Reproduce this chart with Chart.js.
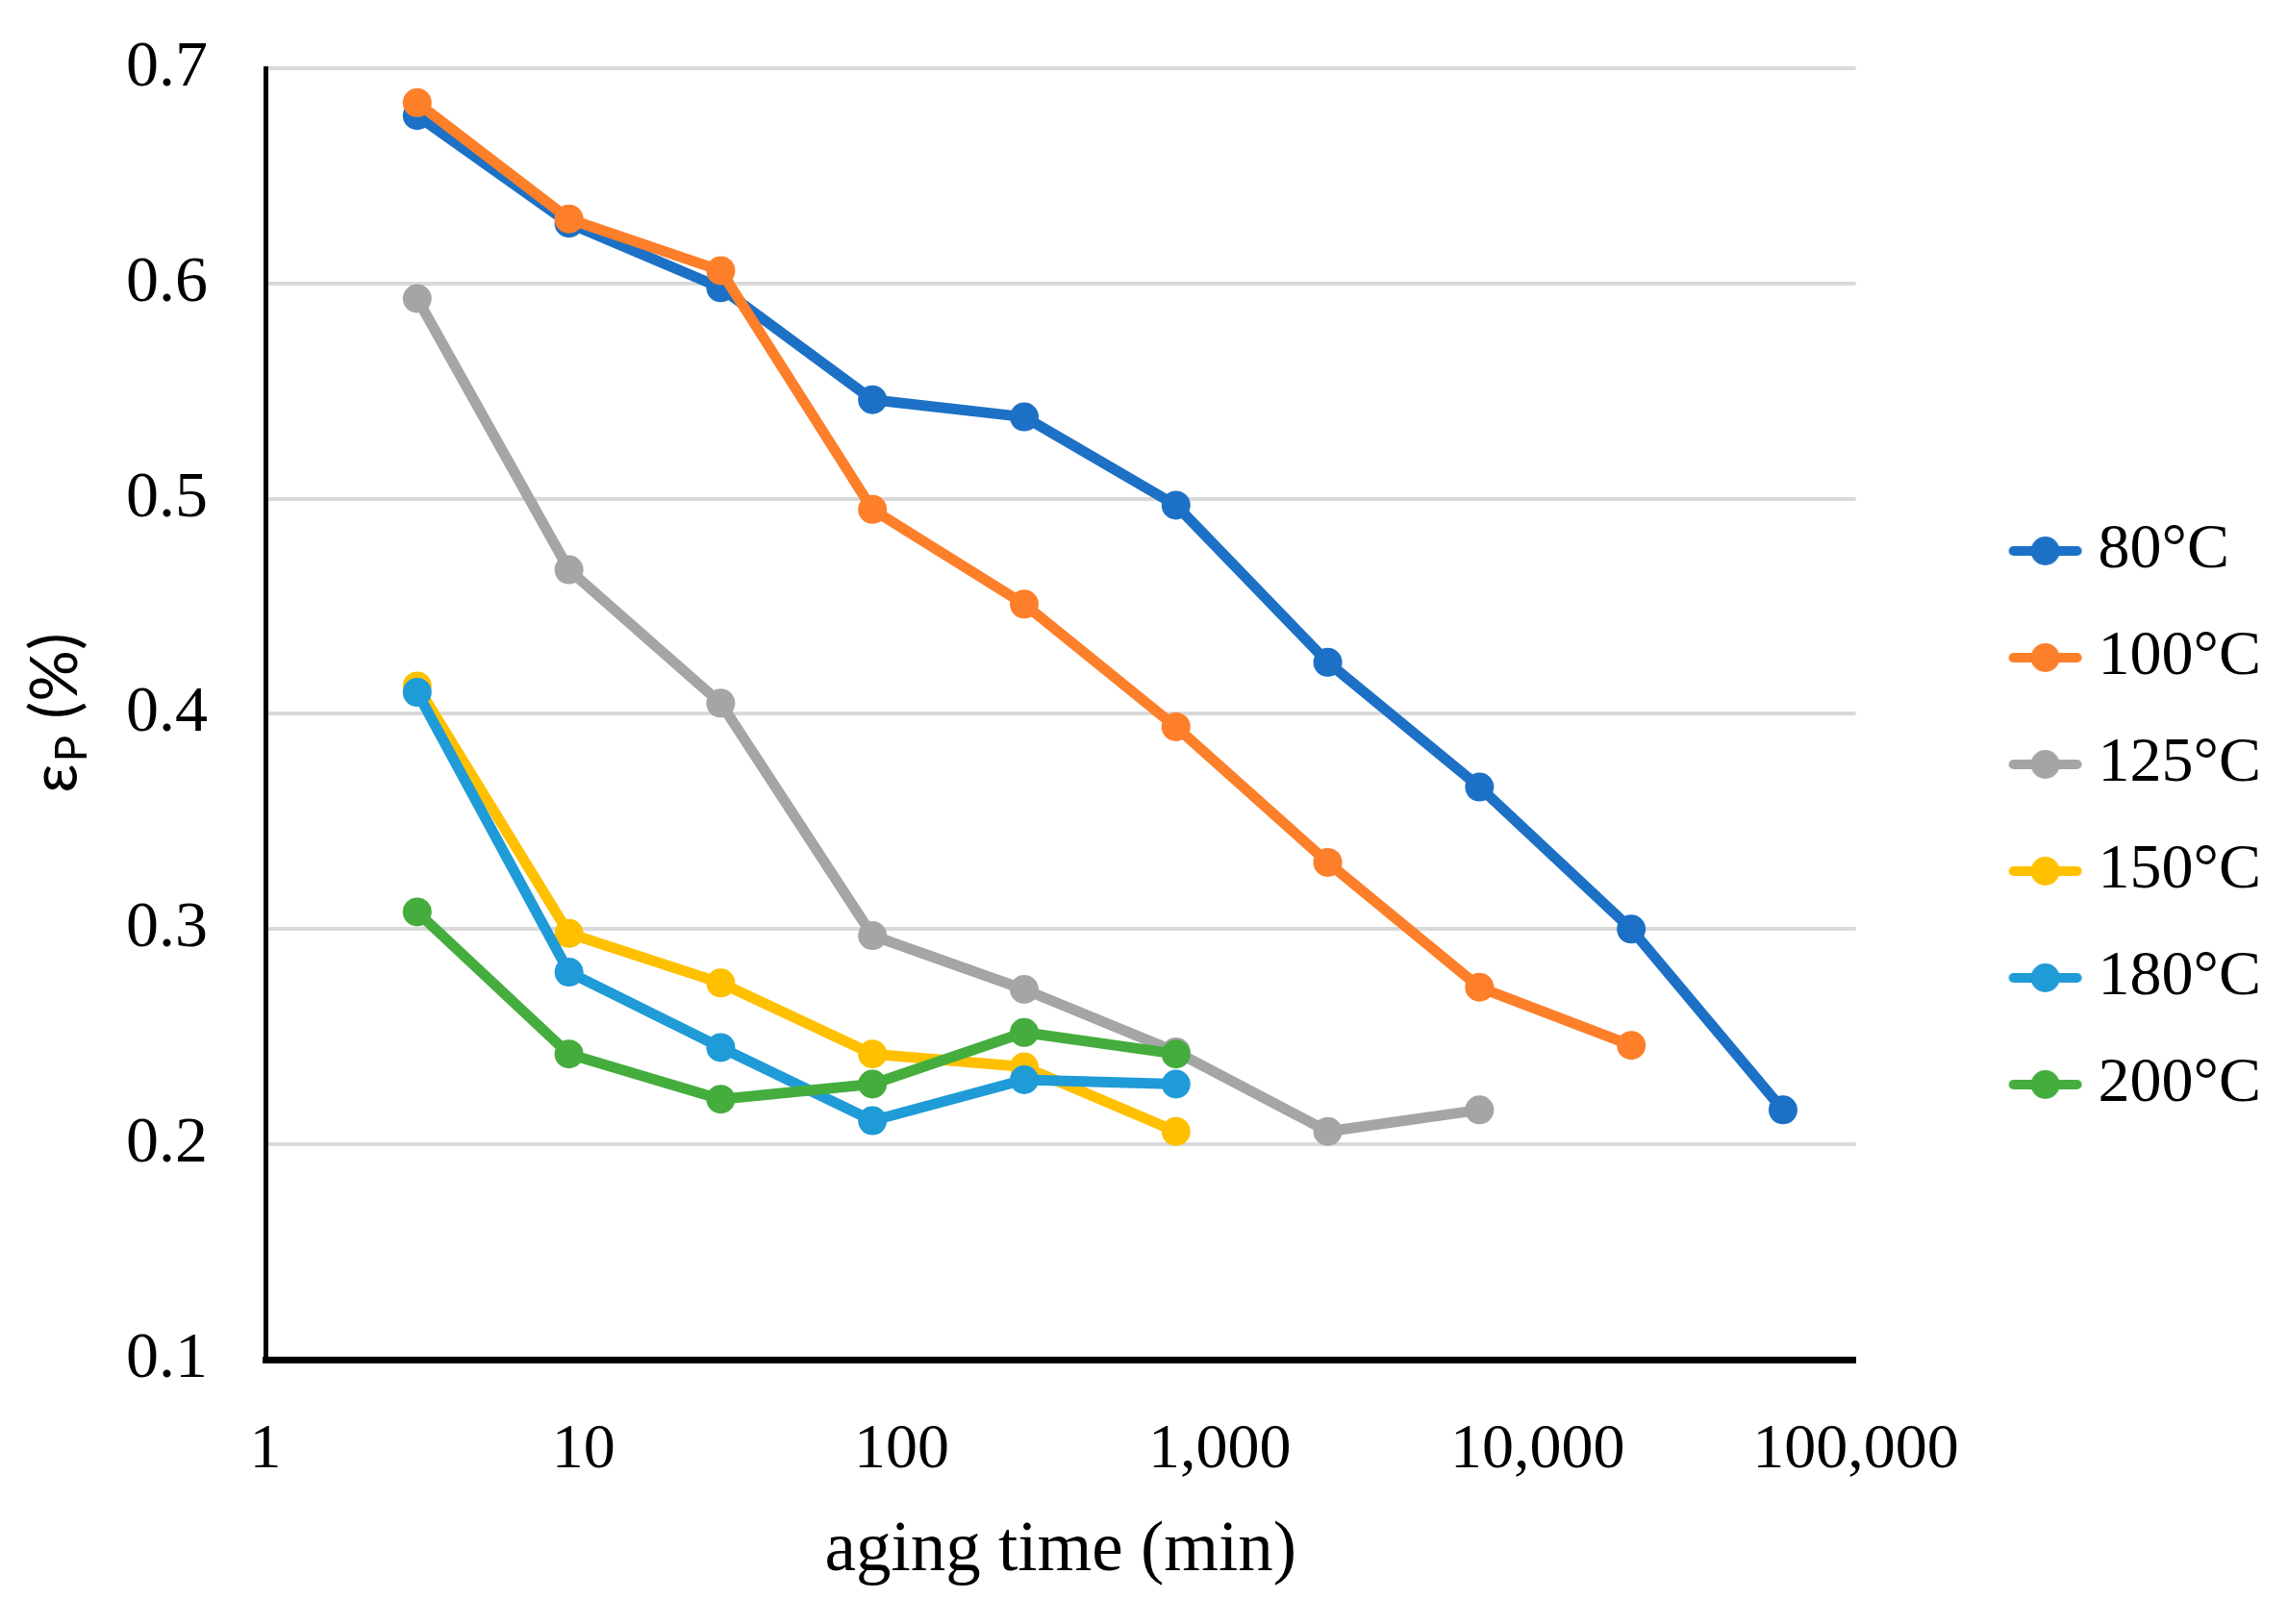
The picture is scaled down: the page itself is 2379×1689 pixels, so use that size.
<!DOCTYPE html>
<html>
<head>
<meta charset="utf-8">
<script src="https://cdn.jsdelivr.net/npm/chart.js@4.4.0/dist/chart.umd.min.js"></script>
<style>
html, body { margin: 0; padding: 0; background: #fff; }
</style>
</head>
<body>
<canvas id="agingChart" width="2379" height="1689"></canvas>
<script>
// aging time (min) for each measurement, same for all series
const agingTimes = [3, 9, 27, 81, 243, 729, 2187, 6561, 19683, 59049];
const temperatures = ['80°C', '100°C', '125°C', '150°C', '180°C', '200°C'];

const strain80 = [0.678, 0.628, 0.598, 0.546, 0.538, 0.497, 0.424, 0.366, 0.300, 0.216];
const strain100 = [0.684, 0.630, 0.606, 0.495, 0.451, 0.394, 0.331, 0.273, 0.246];
const strain125 = [0.593, 0.467, 0.405, 0.297, 0.272, 0.243, 0.206, 0.216];
const strain150 = [0.413, 0.298, 0.275, 0.242, 0.236, 0.206];
const strain180 = [0.410, 0.280, 0.245, 0.211, 0.230, 0.228];
const strain200 = [0.308, 0.242, 0.221, 0.228, 0.252, 0.242];

const xTicks = [1, 10, 100, 1000, 10000, 100000];
const yTicks = [0.1, 0.2, 0.3, 0.4, 0.5, 0.6, 0.7];

const colors = ['#1c71c6', '#fd7f2a', '#a5a5a5', '#ffc000', '#1f9bd7', '#45ad3d'];
const series = [strain80, strain100, strain125, strain150, strain180, strain200];

const serif = 'Liberation Serif';

function makeMarker(color) {
    const c = document.createElement('canvas');
    c.width = 220;
    c.height = 36;
    const g = c.getContext('2d');
    g.strokeStyle = color;
    g.lineWidth = 10;
    g.lineCap = 'round';
    g.beginPath();
    g.moveTo(142, 18);
    g.lineTo(208, 18);
    g.stroke();
    g.fillStyle = color;
    g.beginPath();
    g.arc(175, 18, 15, 0, Math.PI * 2);
    g.fill();
    return c;
}
const markers = colors.map(makeMarker);

// y axis title with subscript P
const yTitlePlugin = {
    id: 'yTitle',
    afterDraw(chart) {
        const {ctx, chartArea} = chart;
        const cy = (chartArea.top + chartArea.bottom) / 2;
        const big = '67px Lato';
        const small = '46px Lato';
        ctx.save();
        ctx.translate(58, cy);
        ctx.rotate(-Math.PI / 2);
        ctx.fillStyle = '#000';
        ctx.textBaseline = 'middle';
        ctx.font = big;
        const wE = ctx.measureText('ε').width;
        const wRest = ctx.measureText(' (%)').width;
        ctx.font = small;
        const wP = ctx.measureText('P').width;
        let x = -(wE + wP + wRest) / 2;
        ctx.font = big;
        ctx.fillText('ε', x, 0);
        x += wE + 2;
        ctx.font = small;
        ctx.fillText('P', x, 17);
        x += wP;
        ctx.font = big;
        ctx.fillText(' (%)', x, 0);
        ctx.restore();
    }
};

const datasets = temperatures.map((t, i) => ({
    label: t,
    data: series[i].map((v, j) => ({x: agingTimes[j], y: v})),
    borderColor: colors[i],
    backgroundColor: colors[i],
    pointBackgroundColor: colors[i],
    pointBorderWidth: 0,
    pointRadius: 15,
    borderWidth: 11,
    borderJoinStyle: 'round',
    tension: 0,
    order: -i
}));

const ctx = document.getElementById('agingChart').getContext('2d');
const agingChart = new Chart(ctx, {
    type: 'line',
    data: { datasets: datasets },
    plugins: [yTitlePlugin],
    options: {
        responsive: false,
        devicePixelRatio: 1,
        animation: false,
        layout: { padding: { top: 71, right: 18, bottom: 59, left: 0 } },
        plugins: {
            tooltip: { enabled: false },
            legend: {
                position: 'right',
                labels: {
                    usePointStyle: true,
                    pointStyleWidth: 174,
                    padding: 45,
                    color: '#000',
                    font: { family: serif, size: 66 },
                    generateLabels: () => temperatures.map((t, i) => ({
                        text: t,
                        datasetIndex: i,
                        pointStyle: markers[i],
                        fillStyle: colors[i],
                        strokeStyle: colors[i],
                        fontColor: '#000',
                        lineWidth: 0,
                        hidden: false
                    }))
                }
            }
        },
        scales: {
            x: {
                type: 'logarithmic',
                min: 1,
                max: 100000,
                afterBuildTicks: s => { s.ticks = xTicks.map(v => ({value: v})); },
                afterFit: s => { s.height = 216; },
                ticks: {
                    callback: v => Number(v).toLocaleString('en-US'),
                    color: '#000',
                    font: { family: serif, size: 66 },
                    padding: 55,
                    maxRotation: 0,
                    autoSkip: false
                },
                grid: { display: false, drawTicks: false },
                border: { color: '#000', width: 7 },
                title: {
                    display: true,
                    text: 'aging time (min)',
                    color: '#000',
                    font: { family: serif, size: 73 },
                    padding: { top: 0, bottom: -28 }
                }
            },
            y: {
                min: 0.1,
                max: 0.7,
                afterBuildTicks: s => { s.ticks = yTicks.map(v => ({value: v})); },
                afterFit: s => { s.width = 276; },
                ticks: {
                    callback: v => Number(v).toFixed(1),
                    color: '#000',
                    font: { family: serif, size: 68 },
                    padding: 0
                },
                grid: {
                    color: c => (c.tick && Math.abs(c.tick.value - 0.1) < 1e-6) ? 'rgba(0,0,0,0)' : '#d9d9d9',
                    lineWidth: 4,
                    drawTicks: true,
                    tickLength: 60,
                    tickColor: 'rgba(0,0,0,0)'
                },
                border: { color: '#000', width: 5 }
            }
        }
    }
});
</script>
</body>
</html>
